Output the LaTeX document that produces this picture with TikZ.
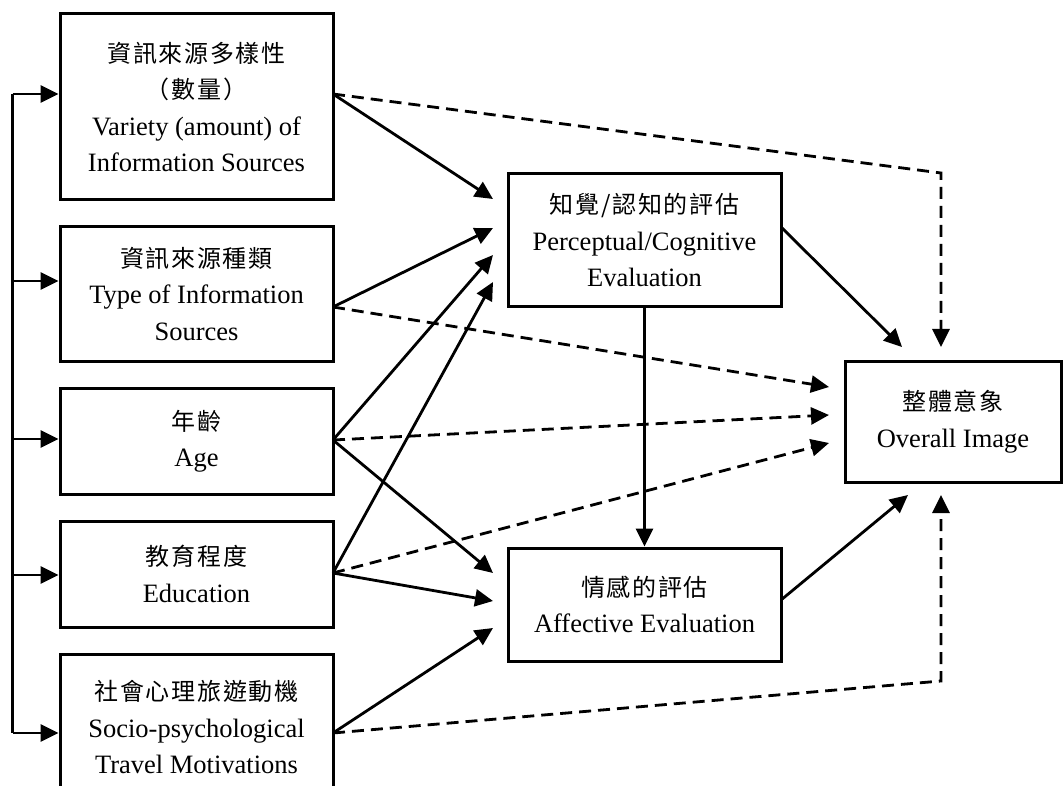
\documentclass[tikz,border=0pt]{standalone}
\usepackage{fontspec}
\setmainfont{Liberation Serif}
\newfontfamily\cjkfont{Noto Sans CJK TC}[LetterSpace=7]
\newcommand{\zhtxt}[1]{{\fontsize{24}{36.5}\cjkfont #1}}
\usetikzlibrary{arrows.meta}
\begin{document}
\begin{tikzpicture}[x=1pt,y=-1pt,
  box/.style={draw, line width=3pt, rectangle, minimum width=273pt, align=center, inner sep=0pt,
    font=\fontsize{26.5}{36.5}\selectfont},
  conn/.style={line width=2.8pt, -{Triangle[length=18pt,width=17pt]}},
  dconn/.style={conn, dash pattern=on 12pt off 7pt},
  spine/.style={line width=2.8pt}
]
\clip (0,0) rectangle (1063,786);
\fill[white] (0,0) rectangle (1063,786);

% left boxes
\node[box, minimum height=186pt] (b1) at (196.5,107) {\zhtxt{資訊來源多樣性}\\\zhtxt{（數量）}\\Variety (amount) of\\Information Sources};
\node[box, minimum height=134pt] (b2) at (196.5,294) {\zhtxt{資訊來源種類}\\Type of Information\\Sources};
\node[box, minimum height=106pt] (b3) at (196.5,441) {\zhtxt{年齡}\\Age};
\node[box, minimum height=106pt] (b4) at (196.5,574) {\zhtxt{教育程度}\\Education};
\node[box, minimum height=146pt] (b5) at (196.5,727) {\zhtxt{社會心理旅遊動機}\\Socio-psychological\\Travel Motivations};

% middle boxes
\node[box, minimum height=133pt] (pc) at (644.5,240.5) {\zhtxt{知覺/認知的評估}\\Perceptual/Cognitive\\Evaluation};
\node[box, minimum height=113pt] (af) at (644.5,604.5) {\zhtxt{情感的評估}\\Affective Evaluation};

% right box
\node[box, minimum width=216pt, minimum height=121pt] (ov) at (953,421.5) {\zhtxt{整體意象}\\Overall Image};

% start points on left boxes
\coordinate (s1) at (333,94);
\coordinate (s2) at (333,307);
\coordinate (s3) at (333,440);
\coordinate (s4) at (333,573);
\coordinate (s5) at (333,733);
\coordinate (pr) at (781,227);
\coordinate (ar) at (781,600);

% tips near perceptual box
\coordinate (p1) at (493,199);
\coordinate (p2) at (493,228);
\coordinate (p3) at (493,255);
\coordinate (p4) at (493,282);
% tips near affective box
\coordinate (a1) at (493,573);
\coordinate (a2) at (493,601);
\coordinate (a3) at (493,628);
% tips near overall box
\coordinate (o2) at (829,387);
\coordinate (o3) at (829,415);
\coordinate (o4) at (829,443);
\coordinate (otop) at (941,347);
\coordinate (obot) at (941,495);
\coordinate (opc) at (902,347);
\coordinate (oaf) at (908,495);
\coordinate (c1) at (941,173);
\coordinate (c5) at (941,681);

% spine
\coordinate (sp1) at (12.7,94);
\coordinate (sp2) at (12.7,281);
\coordinate (sp3) at (12.7,439);
\coordinate (sp4) at (12.7,575);
\coordinate (sp5) at (12.7,733);
\draw[spine] (sp1) -- (sp5);
\draw[conn] (sp1) -- (sp1 -| b1.west);
\draw[conn] (sp2) -- (sp2 -| b2.west);
\draw[conn] (sp3) -- (sp3 -| b3.west);
\draw[conn] (sp4) -- (sp4 -| b4.west);
\draw[conn] (sp5) -- (sp5 -| b5.west);

% solid connectors
\draw[conn] (s1) -- (p1);
\draw[conn] (s2) -- (p2);
\draw[conn] (s3) -- (p3);
\draw[conn] (s4) -- (p4);
\draw[conn] (s3) -- (a1);
\draw[conn] (s4) -- (a2);
\draw[conn] (s5) -- (a3);
\draw[conn] (pc.south) -- (af.north);
\draw[conn] (pr) -- (opc);
\draw[conn] (ar) -- (oaf);

% dashed connectors
\draw[dconn] (s1) -- (c1) -- (otop);
\draw[dconn] (s2) -- (o2);
\draw[dconn] (s3) -- (o3);
\draw[dconn] (s4) -- (o4);
\draw[dconn] (s5) -- (c5) -- (obot);
\end{tikzpicture}
\end{document}
